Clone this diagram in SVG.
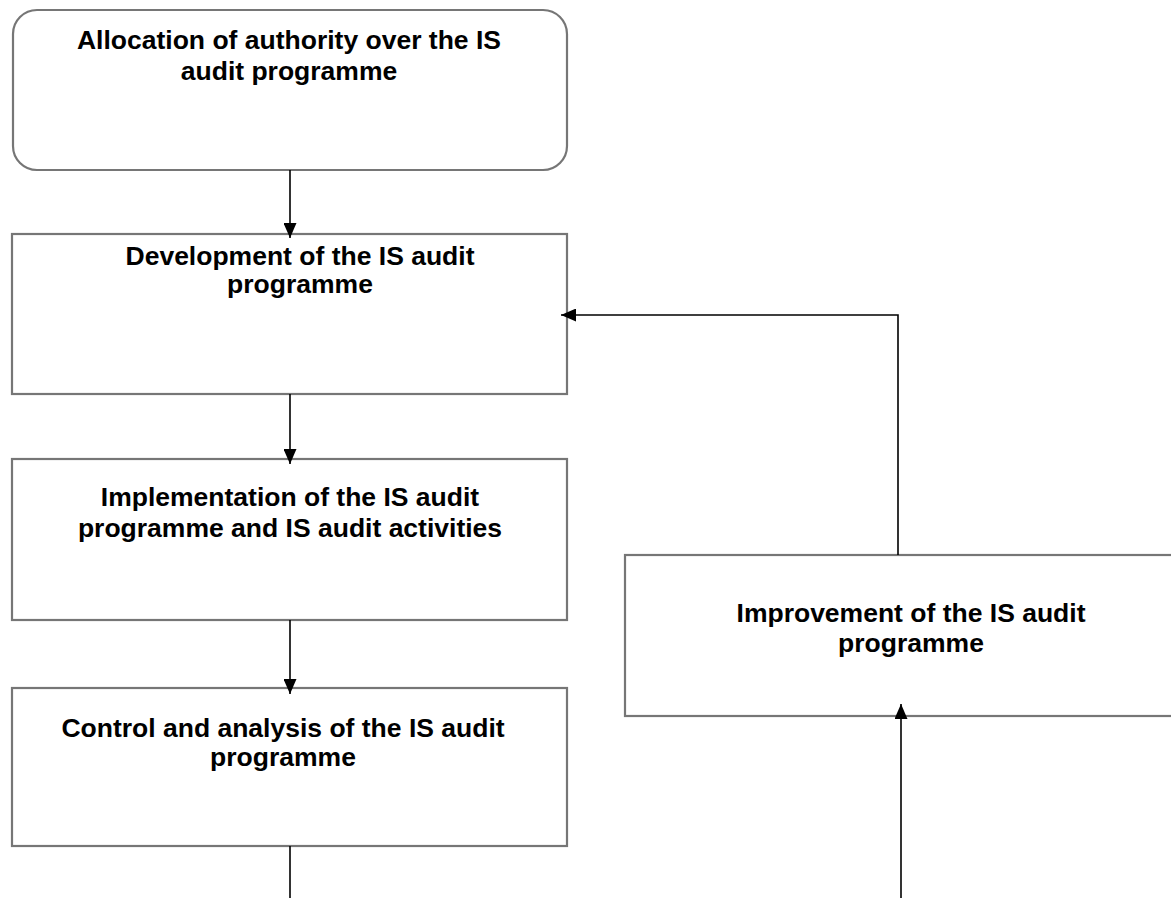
<svg xmlns="http://www.w3.org/2000/svg" width="1171" height="898" viewBox="0 0 1171 898">
  <defs>
    <marker id="arrow" viewBox="0 0 15 13" refX="15" refY="6.5" markerWidth="15" markerHeight="13" markerUnits="userSpaceOnUse" orient="auto">
      <path d="M0,0 L15,6.5 L0,13 Z" fill="#000"/>
    </marker>
  </defs>
  <style>
    .box { fill: #fff; stroke: #767676; stroke-width: 2.2; }
    .lbl { font-family: "Liberation Sans", Arial, sans-serif; font-weight: bold; font-size: 26.5px; fill: #000; text-anchor: middle; }
    .con { fill: none; stroke: #000; stroke-width: 1.6; }
  </style>
  <rect width="1171" height="898" fill="#fff"/>

  <g id="node-allocation">
    <rect class="box" x="13" y="10" width="554" height="160" rx="24" ry="24"/>
    <text class="lbl" x="289" y="49">Allocation of authority over the IS</text>
    <text class="lbl" x="289" y="80">audit programme</text>
  </g>

  <g id="node-development">
    <rect class="box" x="12" y="234" width="555" height="160"/>
    <text class="lbl" x="300" y="265">Development of the IS audit</text>
    <text class="lbl" x="300" y="293">programme</text>
  </g>

  <g id="node-implementation">
    <rect class="box" x="12" y="459" width="555" height="161"/>
    <text class="lbl" x="290" y="506">Implementation of the IS audit</text>
    <text class="lbl" x="290" y="537">programme and IS audit activities</text>
  </g>

  <g id="node-control">
    <rect class="box" x="12" y="688" width="555" height="158"/>
    <text class="lbl" x="283" y="737">Control and analysis of the IS audit</text>
    <text class="lbl" x="283" y="766">programme</text>
  </g>

  <g id="node-improvement">
    <rect class="box" x="625" y="555" width="560" height="161"/>
    <text class="lbl" x="911" y="622">Improvement of the IS audit</text>
    <text class="lbl" x="911" y="652">programme</text>
  </g>

  <g id="connectors">
    <path class="con" d="M290,170 L290,238" marker-end="url(#arrow)"/>
    <path class="con" d="M290,394 L290,464" marker-end="url(#arrow)"/>
    <path class="con" d="M290,620 L290,694" marker-end="url(#arrow)"/>
    <path class="con" d="M290,846 L290,898"/>
    <path class="con" d="M898,555 L898,315 L561,315" marker-end="url(#arrow)"/>
    <path class="con" d="M901,898 L901,704" marker-end="url(#arrow)"/>
  </g>
</svg>
